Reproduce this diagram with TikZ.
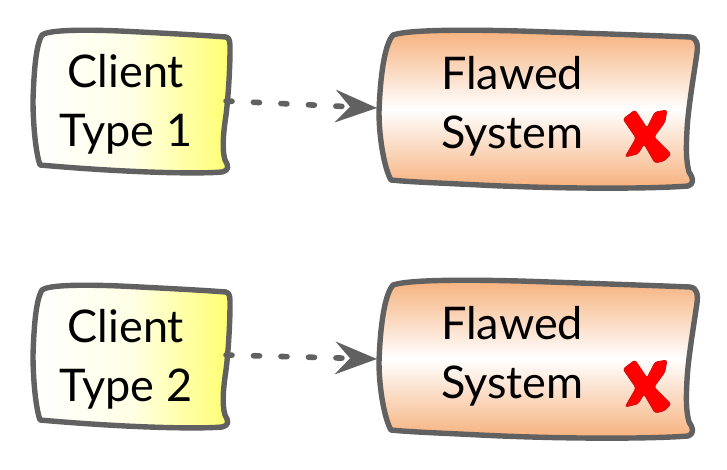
\documentclass[tikz,border=0pt]{standalone}
\usepackage{fontspec}
\setmainfont{Lato}
\usetikzlibrary{arrows.meta}
\definecolor{edgegray}{HTML}{616161}
\definecolor{sysorange}{HTML}{F6B07C}
\definecolor{clientyellow}{HTML}{FFFF70}
\definecolor{clientpale}{HTML}{FFFFE6}
\definecolor{crossred}{HTML}{FF0000}
\definecolor{crossedge}{HTML}{CC1010}
\tikzset{
  boxline/.style={draw=edgegray,line width=5.4pt,line join=round},
  clientbox/.style={boxline,left color=white,right color=clientyellow,middle color=clientpale},
  sysbox/.style={boxline,top color=sysorange,bottom color=sysorange,middle color=white},
  crossmark/.style={fill=crossred,draw=crossedge,line width=.7pt,rounded corners=2.5pt},
  labeltext/.style={inner sep=0pt,text=black,font=\fontsize{45}{59}\selectfont},
  flow/.style={draw=edgegray,line width=5.6pt,line cap=round,dash pattern=on 6pt off 21.5pt,
    -{Stealth[length=42pt,width=33pt,inset=15pt,round,line width=0pt,fill=edgegray]}}
}
\newcommand{\clientoutline}{(42,35) .. controls (47,31) and (70,29) .. (120,31) .. controls (160,33) and (200,35) .. (226,37)
  .. controls (230,38) and (230,42) .. (230,50) .. controls (230,70) and (228,100) .. (226,115)
  .. controls (223,135) and (222,150) .. (225,160) .. controls (229,167) and (229,170) .. (222,172)
  .. controls (200,174) and (130,173) .. (40,165) .. controls (35,150) and (33,120) .. (33,100)
  .. controls (34,70) and (36,45) .. (42,35) -- cycle}
\newcommand{\sysoutline}{(393,35) .. controls (405,31) and (440,29) .. (520,31) .. controls (580,33) and (640,35) .. (690,37)
  .. controls (697,38) and (698,44) .. (697,53) .. controls (693,80) and (688,110) .. (687,130)
  .. controls (686,150) and (686,160) .. (689,172) .. controls (693,178) and (695,183) .. (688,186)
  .. controls (650,189) and (560,189) .. (480,185) .. controls (440,183) and (410,182) .. (391,180)
  .. controls (385,170) and (379,140) .. (379,112) .. controls (380,80) and (384,45) .. (393,35) -- cycle}
\newcommand{\crossoutline}{(623,119) -- (635,110) -- (647,128) -- (655,112) -- (667,110) -- (665,122) -- (654,137)
  -- (671,154) -- (664,161) -- (655,163) -- (644,144) -- (638,154) -- (625,157) -- (636,138) -- cycle}
\begin{document}
\begin{tikzpicture}[x=1pt,y=-1pt]
\useasboundingbox (0,0) rectangle (727,469);
% top row
\coordinate (out1) at (226,101);
\coordinate (in1) at (377,108);
\draw[clientbox] \clientoutline;
\draw[sysbox] \sysoutline;
\draw[crossmark] \crossoutline;
\draw[flow] (out1) -- (in1);
\node[labeltext,align=center,anchor=base] (client1) at (126,146) {Client\\[0pt]Type 1};
\node[labeltext,align=left,anchor=base west] (system1) at (441,148) {Flawed\\[0pt]System};
% bottom row
\begin{scope}[yshift=-255pt]
\draw[clientbox] \clientoutline;
\end{scope}
\begin{scope}[yshift=-250pt]
\draw[sysbox] \sysoutline;
\draw[crossmark] \crossoutline;
\end{scope}
\coordinate (out2) at (226,355);
\coordinate (in2) at (377,359);
\draw[flow] (out2) -- (in2);
\node[labeltext,align=center,anchor=base] (client2) at (126,401) {Client\\[0pt]Type 2};
\node[labeltext,align=left,anchor=base west] (system2) at (441,398) {Flawed\\[0pt]System};
\end{tikzpicture}
\end{document}
